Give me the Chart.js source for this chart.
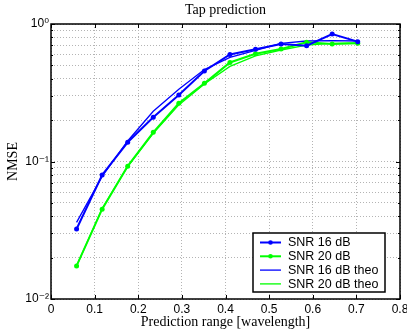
<!DOCTYPE html>
<html>
<head>
<meta charset="utf-8">
<script src="https://cdn.jsdelivr.net/npm/chart.js@4/dist/chart.umd.min.js"></script>
<style>
  html, body { margin: 0; padding: 0; background: #fff; }
  #wrap { width: 407px; height: 331px; }
</style>
</head>
<body>
<div id="wrap"><canvas id="chart"></canvas></div>
<script>
// prediction range in wavelengths
const ranges = [0.0586, 0.1172, 0.1758, 0.2344, 0.293, 0.3516, 0.4102, 0.4688, 0.5273, 0.5859, 0.6445, 0.7031];

const snr16 = [0.0323, 0.0798, 0.138, 0.210, 0.305, 0.455, 0.600, 0.655, 0.715, 0.696, 0.846, 0.744];
const snr20 = [0.0174, 0.045, 0.0925, 0.163, 0.265, 0.370, 0.525, 0.608, 0.658, 0.736, 0.715, 0.724];
const snr16Theo = [0.0361, 0.078, 0.141, 0.232, 0.335, 0.466, 0.572, 0.642, 0.724, 0.752, 0.757, 0.752];
const snr20Theo = [0.0174, 0.0455, 0.092, 0.160, 0.258, 0.366, 0.492, 0.587, 0.647, 0.703, 0.724, 0.730];

const seriesLabels = ['SNR 16 dB', 'SNR 20 dB', 'SNR 16 dB theo', 'SNR 20 dB theo'];

const yTicks = [0.01, 0.02, 0.03, 0.04, 0.05, 0.06, 0.07, 0.08, 0.09,
                0.1, 0.2, 0.3, 0.4, 0.5, 0.6, 0.7, 0.8, 0.9, 1];
const yMajor = [0.01, 0.1, 1];
const yMajorLabels = ['10\u207B\u00B2', '10\u207B\u00B9', '10\u2070'];

const BLUE = '#0000ff';
const GREEN = '#00ff00';
const SANS = '"Liberation Sans", "DejaVu Sans", Arial, sans-serif';
const SERIF = '"Liberation Serif", "Times New Roman", serif';

function pts(ys) {
  return ranges.map((x, i) => ({ x: x, y: ys[i] }));
}

function measured(label, ys, color) {
  return {
    label: label, data: pts(ys),
    borderColor: color, backgroundColor: color,
    borderWidth: 2, pointRadius: 2.5, pointHoverRadius: 2.5,
    pointBorderWidth: 0, tension: 0, marker: true
  };
}
function theo(label, ys, color) {
  return {
    label: label, data: pts(ys),
    borderColor: color, backgroundColor: color,
    borderWidth: 1.3, pointRadius: 0, pointHoverRadius: 0,
    tension: 0, marker: false
  };
}

// frame, inward ticks, title and boxed legend, matlab style
const matlabFrame = {
  id: 'matlabFrame',
  afterDraw(chart) {
    const { ctx, chartArea: a } = chart;
    const xs = chart.scales.x, ys = chart.scales.y;
    ctx.save();
    ctx.strokeStyle = '#000';
    ctx.lineWidth = 1;
    ctx.beginPath();
    xs.ticks.forEach(t => {
      const px = Math.round(xs.getPixelForValue(t.value)) + 0.5;
      ctx.moveTo(px, a.bottom); ctx.lineTo(px, a.bottom - 4);
      ctx.moveTo(px, a.top); ctx.lineTo(px, a.top + 4);
    });
    ys.ticks.forEach(t => {
      const py = Math.round(ys.getPixelForValue(t.value)) + 0.5;
      const len = yMajor.includes(t.value) ? 4 : 2;
      ctx.moveTo(a.left, py); ctx.lineTo(a.left + len, py);
      ctx.moveTo(a.right, py); ctx.lineTo(a.right - len, py);
    });
    ctx.stroke();
    ctx.lineWidth = 1.5;
    ctx.strokeRect(a.left, a.top, a.right - a.left, a.bottom - a.top);

    // title
    ctx.fillStyle = '#000';
    ctx.font = '14px ' + SERIF;
    ctx.textAlign = 'center';
    ctx.textBaseline = 'middle';
    ctx.fillText('Tap prediction', (a.left + a.right) / 2, 10);

    // legend
    const lx = 253, ly = 233, lw = 132, lh = 59;
    ctx.fillStyle = '#fff';
    ctx.fillRect(lx, ly, lw, lh);
    ctx.strokeStyle = '#000';
    ctx.lineWidth = 1.5;
    ctx.strokeRect(lx, ly, lw, lh);
    ctx.font = '12.5px ' + SANS;
    ctx.textAlign = 'left';
    chart.data.datasets.forEach((ds, i) => {
      const y = ly + 9.5 + i * 13.8;
      ctx.strokeStyle = ds.borderColor;
      ctx.lineWidth = ds.borderWidth;
      ctx.beginPath();
      ctx.moveTo(lx + 7, y); ctx.lineTo(lx + 28, y);
      ctx.stroke();
      if (ds.marker) {
        ctx.fillStyle = ds.borderColor;
        ctx.beginPath();
        ctx.arc(lx + 17.5, y, 2.3, 0, Math.PI * 2);
        ctx.fill();
      }
      ctx.fillStyle = '#000';
      ctx.fillText(ds.label, lx + 35, y + 0.5);
    });
    ctx.restore();
  }
};

new Chart(document.getElementById('chart'), {
  type: 'line',
  data: {
    datasets: [
      measured(seriesLabels[0], snr16, BLUE),
      measured(seriesLabels[1], snr20, GREEN),
      theo(seriesLabels[2], snr16Theo, BLUE),
      theo(seriesLabels[3], snr20Theo, GREEN)
    ]
  },
  options: {
    responsive: true,
    maintainAspectRatio: false,
    animation: false,
    events: [],
    layout: { padding: { top: 24, right: 7, left: 0, bottom: 0 } },
    plugins: {
      legend: { display: false },
      title: { display: false },
      tooltip: { enabled: false }
    },
    scales: {
      x: {
        type: 'linear', min: 0, max: 0.8,
        ticks: {
          stepSize: 0.1, color: '#000', padding: 3,
          font: { family: SANS, size: 12 },
          callback: v => (v === 0 ? '0' : v.toFixed(1))
        },
        grid: { color: '#b4b4b4', lineWidth: 1, drawTicks: false },
        border: { display: false, dash: [1, 2] },
        title: {
          display: true, text: 'Prediction range [wavelength]', color: '#000',
          font: { family: SERIF, size: 14 }, padding: { top: 0, bottom: 0.5 }
        },
        afterFit: s => { s.height = 32; s.paddingLeft = 0; s.paddingRight = 0; }
      },
      y: {
        type: 'logarithmic', min: 0.01, max: 1,
        afterBuildTicks: s => {
          s.ticks = yTicks.map(v => ({ value: v, major: yMajor.includes(v) }));
        },
        ticks: {
          autoSkip: false, color: '#000', padding: 2,
          font: { family: SANS, size: 12 },
          callback: v => {
            const k = yMajor.indexOf(v);
            return k >= 0 ? yMajorLabels[k] : '';
          }
        },
        grid: { color: '#b4b4b4', lineWidth: 1, drawTicks: false },
        border: { display: false, dash: [1, 2] },
        title: {
          display: true, text: 'NMSE', color: '#000',
          font: { family: SERIF, size: 14 }, padding: { top: 5, bottom: 0 }
        },
        afterFit: s => { s.width = 51; s.paddingTop = 0; s.paddingBottom = 0; }
      }
    }
  },
  plugins: [matlabFrame]
});
</script>
</body>
</html>
